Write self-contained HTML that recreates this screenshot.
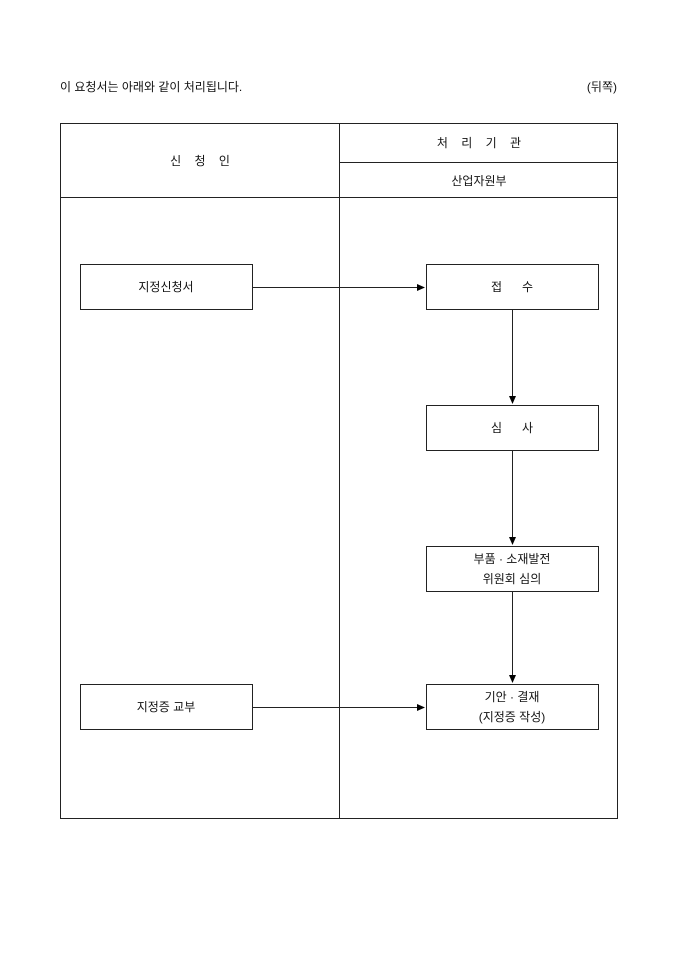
<!DOCTYPE html>
<html><head><meta charset="utf-8"><style>
body{margin:0;background:#fff;width:680px;height:962px;overflow:hidden}
svg text{font-family:"Liberation Sans","Noto Sans CJK KR",sans-serif;font-size:12px;fill:#111}
</style></head><body>
<svg width="680" height="962" xmlns="http://www.w3.org/2000/svg">
<defs><marker id="a" markerWidth="8" markerHeight="8" refX="7" refY="4" orient="auto" markerUnits="userSpaceOnUse"><path d="M0,0.5 L8,4 L0,7.5 z" fill="#000"/></marker></defs>
<text x="60" y="91">이 요청서는 아래와 같이 처리됩니다.</text>
<text x="617" y="91" text-anchor="end">(뒤쪽)</text>
<g fill="none" stroke="#222" stroke-width="1">
<rect x="60.5" y="123.5" width="557" height="695"/>
<line x1="339.5" y1="123" x2="339.5" y2="819"/>
<line x1="340" y1="162.5" x2="618" y2="162.5"/>
<line x1="60" y1="197.5" x2="618" y2="197.5"/>
<rect x="80.5" y="264.5" width="172" height="45"/>
<rect x="426.5" y="264.5" width="172" height="45"/>
<rect x="426.5" y="405.5" width="172" height="45"/>
<rect x="426.5" y="546.5" width="172" height="45"/>
<rect x="426.5" y="684.5" width="172" height="45"/>
<rect x="80.5" y="684.5" width="172" height="45"/>
<line x1="253" y1="287.5" x2="424" y2="287.5" marker-end="url(#a)"/>
<line x1="253" y1="707.5" x2="424" y2="707.5" marker-end="url(#a)"/>
<line x1="512.5" y1="310" x2="512.5" y2="403" marker-end="url(#a)"/>
<line x1="512.5" y1="451" x2="512.5" y2="544" marker-end="url(#a)"/>
<line x1="512.5" y1="592" x2="512.5" y2="682" marker-end="url(#a)"/>
</g>
<text x="200" y="165" text-anchor="middle" xml:space="preserve">신    청    인</text>
<text x="479" y="147" text-anchor="middle" xml:space="preserve">처    리    기    관</text>
<text x="479" y="185" text-anchor="middle">산업자원부</text>
<text x="166" y="291" text-anchor="middle">지정신청서</text>
<text x="512" y="291" text-anchor="middle" xml:space="preserve">접      수</text>
<text x="512" y="432" text-anchor="middle" xml:space="preserve">심      사</text>
<text x="512" y="563" text-anchor="middle">부품 · 소재발전</text>
<text x="512" y="583" text-anchor="middle">위원회 심의</text>
<text x="512" y="701" text-anchor="middle">기안 · 결재</text>
<text x="512" y="721" text-anchor="middle">(지정증 작성)</text>
<text x="166" y="711" text-anchor="middle">지정증 교부</text>
</svg>
</body></html>
